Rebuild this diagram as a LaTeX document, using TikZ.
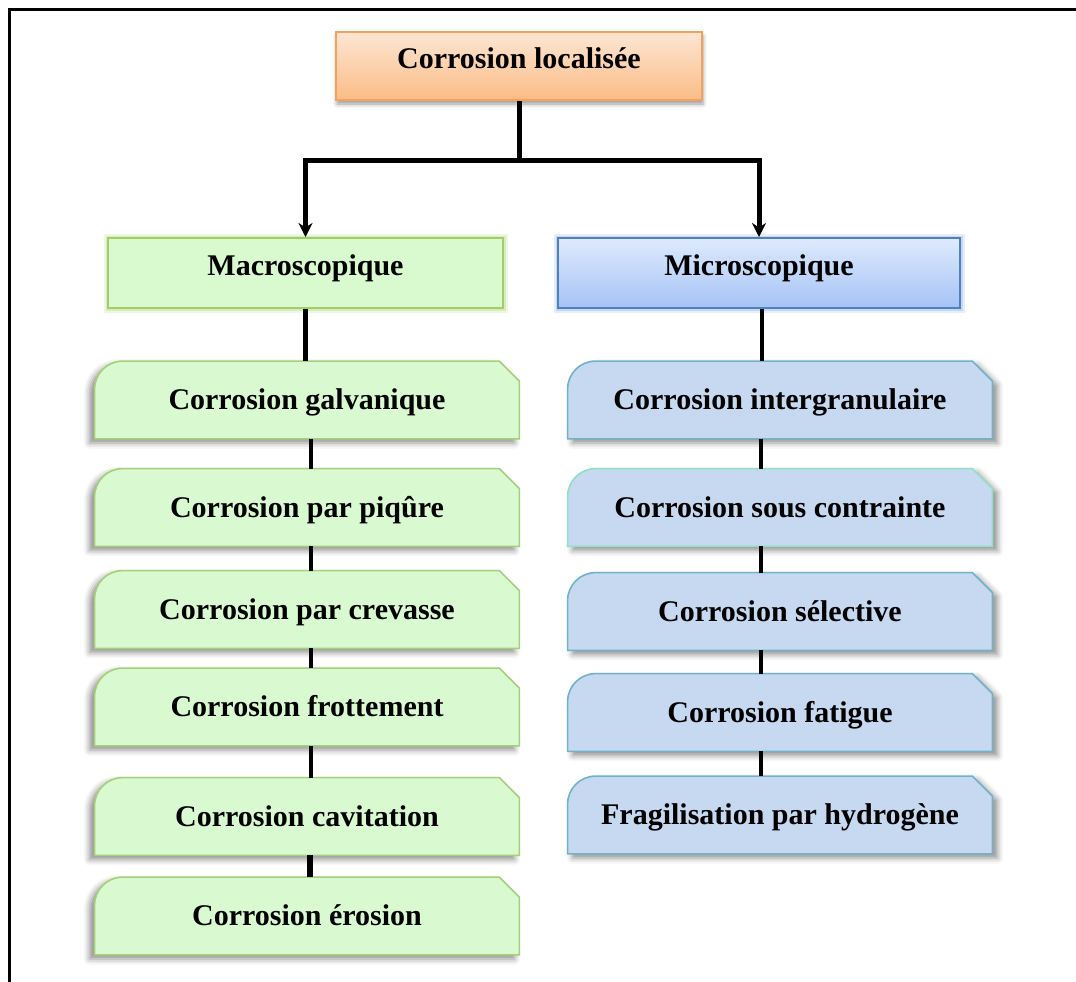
\documentclass[tikz,border=0pt]{standalone}
\usepackage{fontspec}
\setmainfont{Liberation Serif}
\usetikzlibrary{calc,shadows.blur,arrows.meta}
\pgfdeclarelayer{bg}
\pgfsetlayers{bg,main}
\definecolor{ortop}{HTML}{FDE6D3}
\definecolor{orbot}{HTML}{FBBC86}
\definecolor{orline}{HTML}{F6A15A}
\definecolor{macfill}{HTML}{D9F9CF}
\definecolor{macline}{HTML}{A3CD6A}
\definecolor{macglow}{HTML}{C9E6A2}
\definecolor{mitop}{HTML}{DFEAFD}
\definecolor{mibot}{HTML}{A5C3F6}
\definecolor{miline}{HTML}{4F81BD}
\definecolor{miglow}{HTML}{AFC8F0}
\definecolor{lfill}{HTML}{D9FAD0}
\definecolor{lline}{HTML}{A5CF78}
\definecolor{rfill}{HTML}{C6D9F1}
\definecolor{rline}{HTML}{70B3C9}
\definecolor{rline2}{HTML}{8FE0C4}
\newcommand\snipround[2]{%
  \path[#2] (#1.south west) -- ($(#1.north west)+(0,28)$)
    .. controls ($(#1.north west)+(0,12.5)$) and ($(#1.north west)+(12.5,0)$) .. ($(#1.north west)+(28,0)$)
    -- ($(#1.north east)+(-20,0)$) -- ($(#1.north east)+(0,20)$)
    -- (#1.south east) -- cycle;}
\begin{document}
\begin{tikzpicture}[x=0.5pt,y=-0.5pt,
  box/.style={inner sep=0pt, font=\fontsize{15}{18}\selectfont\bfseries, align=center},
  capup/.style={text height=8pt, text depth=5.06pt},
  item/.style={box, minimum width=212pt, minimum height=38.5pt, text height=12pt, text depth=2.06pt},
  leftshape/.style={fill=lfill, draw=lline, line width=0.8pt,
    blur shadow={shadow xshift=-2.5pt, shadow yshift=-2pt, shadow blur radius=3pt, shadow opacity=45}},
  rightshape/.style={fill=rfill, draw=rline, line width=0.8pt,
    blur shadow={shadow xshift=2.5pt, shadow yshift=-2pt, shadow blur radius=3pt, shadow opacity=45}},
  conn/.style={draw=black, line width=2.5pt, line join=miter},
  thinconn/.style={draw=black, line width=2pt},
  tip/.style={-{Stealth[length=7pt,width=7pt]}}
]
\useasboundingbox (0,0) rectangle (1076,981);
% frame
\draw[line width=1.5pt] (9.5,990) -- (9.5,9.5) -- (1080,9.5);

% top
\node[box, capup, minimum width=183pt, minimum height=34pt,
  top color=ortop, bottom color=orbot, draw=orline, line width=1pt,
  blur shadow={shadow xshift=0.5pt, shadow yshift=-2pt, shadow blur radius=2pt, shadow opacity=40}]
  (T) at (519,66) {Corrosion localisée};

\node[box, capup, minimum width=197.5pt, minimum height=35pt,
  fill=macfill, draw=macline, line width=1pt,
  preaction={draw=macglow, line width=4.5pt, opacity=0.3},
  preaction={draw=macglow, line width=2.5pt, opacity=0.6}]
  (Ma) at (305.5,273) {Macroscopique};

\node[box, capup, minimum width=201pt, minimum height=35pt,
  top color=mitop, bottom color=mibot, draw=miline, line width=1pt,
  preaction={draw=miglow, line width=4.5pt, opacity=0.3},
  preaction={draw=miglow, line width=2.5pt, opacity=0.6}]
  (Mi) at (759,273) {Microscopique};

% left items
\node[item] (L1) at (307,400) {Corrosion galvanique};
\node[item] (L2) at (307,507.5) {Corrosion par piqûre};
\node[item] (L3) at (307,609.5) {Corrosion par crevasse};
\node[item] (L4) at (307,707) {Corrosion frottement};
\node[item] (L5) at (307,816.5) {Corrosion cavitation};
\node[item] (L6) at (307,916) {Corrosion érosion};

% right items
\node[item] (R1) at (780,400) {Corrosion intergranulaire};
\node[item] (R2) at (780,507.5) {Corrosion sous contrainte};
\node[item] (R3) at (780,611.5) {Corrosion sélective};
\node[item] (R4) at (780,712.5) {Corrosion fatigue};
\node[item] (R5) at (780,815) {Fragilisation par hydrogène};

\begin{pgfonlayer}{bg}
  \snipround{L1}{leftshape}
  \snipround{L2}{leftshape}
  \snipround{L3}{leftshape}
  \snipround{L4}{leftshape}
  \snipround{L5}{leftshape}
  \snipround{L6}{leftshape}
  \snipround{R1}{rightshape}
  \snipround{R2}{rightshape, draw=rline2}
  \snipround{R3}{rightshape}
  \snipround{R4}{rightshape}
  \snipround{R5}{rightshape}
\end{pgfonlayer}

% connectors
\coordinate (hub) at (519,160);
\draw[conn] (T.south) -- (hub);
\draw[conn, tip] (hub) -| (Ma.north);
\draw[conn, tip] (hub) -| (Mi.north);

\draw[conn] (Ma.south) -- (Ma.south |- L1.north);
\draw[thinconn] ([xshift=1.75pt]L1.south) -- ([xshift=1.75pt]L2.north);
\draw[thinconn] ([xshift=1.75pt]L2.south) -- ([xshift=1.75pt]L3.north);
\draw[thinconn] ([xshift=1.75pt]L3.south) -- ([xshift=1.75pt]L4.north);
\draw[thinconn] ([xshift=1.75pt]L4.south) -- ([xshift=1.75pt]L5.north);
\draw[thinconn, line width=3pt] ([xshift=1.5pt]L5.south) -- ([xshift=1.5pt]L6.north);

\draw[thinconn] ([xshift=1.25pt]Mi.south) -- ([xshift=1.25pt]Mi.south |- R1.north);
\draw[thinconn] ([xshift=1pt]R1.south -| Mi.south) -- ([xshift=1pt]R2.north -| Mi.south);
\draw[thinconn] ([xshift=1pt]R2.south -| Mi.south) -- ([xshift=1pt]R3.north -| Mi.south);
\draw[thinconn] ([xshift=1pt]R3.south -| Mi.south) -- ([xshift=1pt]R4.north -| Mi.south);
\draw[thinconn] ([xshift=1pt]R4.south -| Mi.south) -- ([xshift=1pt]R5.north -| Mi.south);
\end{tikzpicture}
\end{document}
